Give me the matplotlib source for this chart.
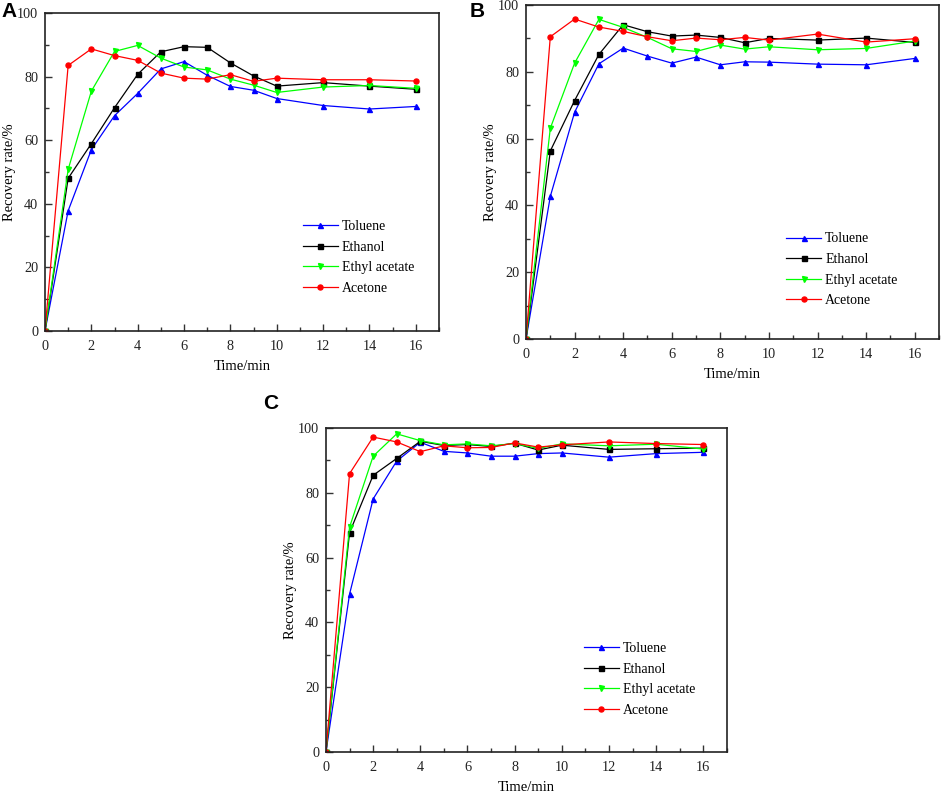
import matplotlib
matplotlib.use("Agg")
import matplotlib.pyplot as plt
from matplotlib.ticker import MultipleLocator

time_min = [0, 1, 2, 3, 4, 5, 6, 7, 8, 9, 10, 12, 14, 16]
series_names = ["Toluene", "Ethanol", "Ethyl acetate", "Acetone"]

a_toluene = [0, 37.8, 57.0, 67.7, 74.7, 82.4, 84.7, 80.4, 76.9, 75.7, 73.1, 70.9, 69.8, 70.6]
a_ethanol = [0, 48.0, 58.9, 70.2, 80.7, 87.8, 89.4, 89.2, 84.3, 80.2, 77.0, 78.1, 77.0, 76.0]
a_ethyl_acetate = [0, 50.8, 75.4, 87.9, 89.8, 85.8, 83.0, 82.1, 79.2, 77.3, 75.0, 76.7, 77.2, 76.3]
a_acetone = [0, 83.5, 88.7, 86.6, 85.1, 81.1, 79.5, 79.2, 80.6, 78.5, 79.5, 79.0, 79.0, 78.6]

b_toluene = [0, 42.7, 67.9, 82.4, 87.1, 84.7, 82.6, 84.4, 82.1, 83.0, 82.9, 82.3, 82.1, 84.0]
b_ethanol = [0, 56.3, 71.4, 85.2, 94.1, 92.0, 90.7, 91.0, 90.3, 88.7, 90.0, 89.5, 90.1, 88.8]
b_ethyl_acetate = [0, 63.1, 82.6, 95.7, 93.3, 90.3, 86.9, 86.1, 88.0, 86.8, 87.5, 86.6, 87.0, 89.2]
b_acetone = [0, 90.5, 95.8, 93.4, 92.1, 90.5, 89.3, 90.1, 89.6, 90.3, 89.5, 91.3, 88.9, 89.9]

c_toluene = [0, 48.7, 78.1, 89.8, 95.6, 92.8, 92.3, 91.3, 91.3, 92.1, 92.3, 91.0, 92.1, 92.5]
c_ethanol = [0, 67.7, 85.4, 90.6, 95.9, 94.6, 94.9, 94.3, 95.3, 93.2, 94.7, 93.4, 93.6, 93.8]
c_ethyl_acetate = [0, 69.4, 91.3, 98.2, 96.1, 94.8, 95.1, 94.5, 95.2, 93.7, 95.1, 94.5, 95.0, 93.5]
c_acetone = [0, 85.9, 97.2, 95.7, 92.7, 94.5, 93.9, 94.0, 95.4, 94.1, 94.8, 95.7, 95.2, 94.9]

x_ticks = [0, 2, 4, 6, 8, 10, 12, 14, 16]
y_ticks = [0, 20, 40, 60, 80, 100]

styles = [
    dict(color="#0000ff", marker="^"),
    dict(color="#000000", marker="s"),
    dict(color="#00ff00", marker="v"),
    dict(color="#ff0000", marker="o"),
]

serif = ["Liberation Serif", "DejaVu Serif"]
plt.rcParams["font.family"] = serif

fig = plt.figure(figsize=(9.41, 7.96), dpi=100)

panels = [
    ("A", [0.0478, 0.5842, 0.4187, 0.3995], [a_toluene, a_ethanol, a_ethyl_acetate, a_acetone],
     (0.655, 0.231), (0.002, 0.985)),
    ("B", [0.559, 0.5741, 0.4389, 0.4196], [b_toluene, b_ethanol, b_ethyl_acetate, b_acetone],
     (0.63, 0.207), (0.499, 0.986)),
    ("C", [0.3464, 0.0553, 0.4261, 0.4070], [c_toluene, c_ethanol, c_ethyl_acetate, c_acetone],
     (0.280, 0.4937)),
]

panels[2] = ("C", [0.3464, 0.0553, 0.4261, 0.4070], [c_toluene, c_ethanol, c_ethyl_acetate, c_acetone],
             (0.643, 0.224), (0.280, 0.4937))

for label, rect, data, leg_pos, lab_pos in panels:
    ax = fig.add_axes(rect)
    for name, vals, st in zip(series_names, data, styles):
        ax.plot(time_min, vals, color=st["color"], marker=st["marker"], markersize=3.6,
                linewidth=0.9, label=name)
    ax.set_xlim(0, 17)
    ax.set_ylim(0, 100)
    ax.set_xticks(x_ticks)
    ax.set_yticks(y_ticks)
    ax.xaxis.set_minor_locator(MultipleLocator(1))
    ax.yaxis.set_minor_locator(MultipleLocator(10))
    ax.tick_params(which="both", direction="in", top=False, right=False, labelsize=10.3,
                   width=1.0, colors="#333333", labelcolor="#222222")
    ax.tick_params(which="major", length=5)
    ax.tick_params(axis="x", which="major", pad=6.5)
    ax.tick_params(axis="y", which="major", pad=5)
    ax.tick_params(which="minor", length=3)
    for sp in ax.spines.values():
        sp.set_linewidth(1.2)
        sp.set_color("#222222")
    ax.set_xlabel("Time/min", fontsize=10.5, labelpad=5)
    ax.set_ylabel("Recovery rate/%", fontsize=10.5, labelpad=1)
    ax.legend(loc="center left", bbox_to_anchor=leg_pos, frameon=False, fontsize=10,
              handlelength=2.5, handletextpad=0.3, labelspacing=0.55, borderpad=0,
              borderaxespad=0)
    fig.text(lab_pos[0], lab_pos[1], label, fontsize=15, fontweight="bold",
             family=["Liberation Sans", "DejaVu Sans"], ha="left", va="center")

fig.savefig("out.png", dpi=100)
